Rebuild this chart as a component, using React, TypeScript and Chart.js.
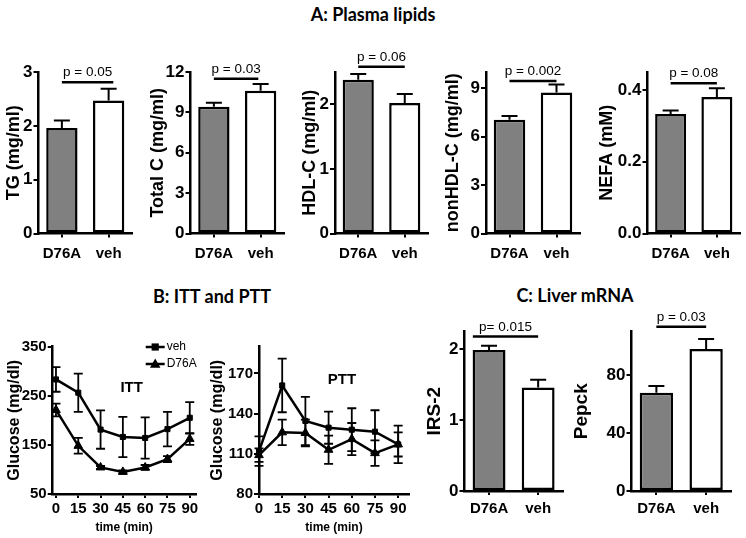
import React, { useEffect, useRef } from 'react';
import { Chart, registerables } from 'chart.js';
Chart.register(...registerables);

const W = 746;
const H = 538;
const FONT = "'Liberation Sans', Arial, Helvetica, sans-serif";
Chart.defaults.font.family = FONT;
Chart.defaults.color = '#000';

// ---------- data ----------
const groups = ['D76A', 'veh'];

const tgMean = [1.96, 2.47];
const tgSem = [0.14, 0.22];
const tcMean = [9.41, 10.6];
const tcSem = [0.3, 0.5];
const hdlMean = [2.38, 2.02];
const hdlSem = [0.09, 0.14];
const nonHdlMean = [7.05, 8.73];
const nonHdlSem = [0.22, 0.49];
const nefaMean = [0.333, 0.38];
const nefaSem = [0.01, 0.025];
const irs2Mean = [1.99, 1.46];
const irs2Sem = [0.06, 0.11];
const pepckMean = [67.8, 98];
const pepckSem = [4.6, 6.9];

const tgTicks = [0, 1, 2, 3];
const tcTicks = [0, 3, 6, 9, 12];
const hdlTicks = [0, 1, 2];
const nonHdlTicks = [0, 3, 6, 9];
const nefaTicks = [0, 0.2, 0.4];
const nefaTickLabels = ['0.0', '0.2', '0.4'];
const irs2Ticks = [0, 1, 2];
const pepckTicks = [0, 40, 80];

const pTexts = ['p = 0.05', 'p = 0.03', 'p = 0.06', 'p = 0.002', 'p = 0.08', 'p= 0.015', 'p = 0.03'];
const sigLevels = [2.81, 11.5, 2.58, 9.44, 0.419, 2.18, 113.3];

const times = [0, 15, 30, 45, 60, 75, 90];
const ittVeh = [283, 256, 181, 166, 164, 182, 205];
const ittVehSem = [25, 39, 39, 41, 42, 35, 32];
const ittD76A = [221, 148, 104, 95, 104, 121, 162];
const ittD76ASem = [13, 16, 3, 3, 5, 6, 12];
const pttVeh = [112, 161, 134.5, 129.5, 128, 126.5, 117];
const pttVehSem = [11, 20, 18, 12, 16, 16, 14];
const pttD76A = [109, 126, 125.5, 113, 121, 110.5, 117];
const pttD76ASem = [5, 9.5, 10, 10.5, 12, 9.5, 9];
const ittTicks = [50, 150, 250, 350];
const pttTicks = [80, 110, 140, 170];

// ---------- panel definitions ----------
type BarPanel = {
  title: string; mean: number[]; sem: number[]; max: number; ticks: number[]; tickLabels?: string[];
  sig: number; sigFrom: number; sigTo: number; pText: string;
  area: { l: number; t: number; r: number; b: number };
  titleCx: number; titleSize: number; tickSize: number; labelPad: number;
};

const barPanels: BarPanel[] = [
  { title: 'TG (mg/ml)', mean: tgMean, sem: tgSem, max: 3, ticks: tgTicks, sig: sigLevels[0], sigFrom: 0, sigTo: 1.1, pText: pTexts[0],
    area: { l: 38.5, t: 72, r: 132, b: 233.5 }, titleCx: 14, titleSize: 18, tickSize: 17, labelPad: 7 },
  { title: 'Total C (mg/ml)', mean: tcMean, sem: tcSem, max: 12, ticks: tcTicks, sig: sigLevels[1], sigFrom: 0, sigTo: 0.95, pText: pTexts[1],
    area: { l: 190.5, t: 72, r: 284, b: 233.5 }, titleCx: 158, titleSize: 18, tickSize: 17, labelPad: 7 },
  { title: 'HDL-C (mg/ml)', mean: hdlMean, sem: hdlSem, max: 2.5, ticks: hdlTicks, sig: sigLevels[2], sigFrom: 0, sigTo: 1, pText: pTexts[2],
    area: { l: 335, t: 72, r: 428, b: 233.5 }, titleCx: 310, titleSize: 18, tickSize: 17, labelPad: 7 },
  { title: 'nonHDL-C (mg/ml)', mean: nonHdlMean, sem: nonHdlSem, max: 10, ticks: nonHdlTicks, sig: sigLevels[3], sigFrom: 0, sigTo: 1, pText: pTexts[3],
    area: { l: 486, t: 72, r: 580, b: 233.5 }, titleCx: 453, titleSize: 18, tickSize: 17, labelPad: 7 },
  { title: 'NEFA (mM)', mean: nefaMean, sem: nefaSem, max: 0.45, ticks: nefaTicks, tickLabels: nefaTickLabels, sig: sigLevels[4], sigFrom: 0, sigTo: 1, pText: pTexts[4],
    area: { l: 647.5, t: 72, r: 740, b: 233.5 }, titleCx: 607, titleSize: 18, tickSize: 17, labelPad: 7 },
  { title: 'IRS-2', mean: irs2Mean, sem: irs2Sem, max: 2.25, ticks: irs2Ticks, sig: sigLevels[5], sigFrom: -0.33, sigTo: 1, pText: pTexts[5],
    area: { l: 464.5, t: 331.5, r: 562.7, b: 491 }, titleCx: 435, titleSize: 19, tickSize: 17, labelPad: 5 },
  { title: 'Pepck', mean: pepckMean, sem: pepckSem, max: 110, ticks: pepckTicks, sig: sigLevels[6], sigFrom: 0, sigTo: 1, pText: pTexts[6],
    area: { l: 631.5, t: 331.5, r: 731, b: 491 }, titleCx: 582, titleSize: 19, tickSize: 17, labelPad: 5 },
];

type LinePanel = {
  veh: number[]; vehSem: number[]; d76a: number[]; d76aSem: number[];
  xMin: number; xMax: number; yMin: number; yMax: number; ticks: number[];
  area: { l: number; t: number; r: number; b: number }; titleCx: number;
  label: string; labelDx: number; labelDy: number; legend: boolean;
};

const linePanels: LinePanel[] = [
  { veh: ittVeh, vehSem: ittVehSem, d76a: ittD76A, d76aSem: ittD76ASem, xMin: -2.2, xMax: 94, yMin: 50, yMax: 350, ticks: ittTicks,
    area: { l: 52.7, t: 346.5, r: 195.7, b: 494 }, titleCx: 15, label: 'ITT', labelDx: 79, labelDy: 41, legend: true },
  { veh: pttVeh, vehSem: pttVehSem, d76a: pttD76A, d76aSem: pttD76ASem, xMin: 0, xMax: 97, yMin: 80, yMax: 190, ticks: pttTicks,
    area: { l: 259, t: 346.6, r: 409, b: 494 }, titleCx: 218, label: 'PTT', labelDx: 83, labelDy: 33.5, legend: false },
];

// ---------- helpers ----------
const axisGrid = (len: number, offset?: boolean) => ({
  display: true, drawOnChartArea: false, drawTicks: true, tickLength: len, color: '#000', lineWidth: 2,
  ...(offset === undefined ? {} : { offset }),
});
const axisBorder = { display: true, color: '#000', width: 2.5 };

function barConfig(p: BarPanel): any {
  const lh = p.titleSize * 1.2;
  const YW = p.area.l - (p.titleCx - lh / 2);
  const XH = 30;
  const decor = {
    id: 'decor',
    afterDatasetsDraw(chart: any) {
      const { ctx } = chart;
      const x = chart.scales.x, y = chart.scales.y;
      ctx.save();
      ctx.strokeStyle = '#000';
      ctx.lineWidth = 2;
      p.mean.forEach((m, i) => {
        const px = x.getPixelForValue(i);
        const y0 = y.getPixelForValue(m);
        const y1 = y.getPixelForValue(m + p.sem[i]);
        ctx.beginPath();
        ctx.moveTo(px, y0);
        ctx.lineTo(px, y1);
        ctx.moveTo(px - 8, y1);
        ctx.lineTo(px + 8, y1);
        ctx.stroke();
      });
      const sy = y.getPixelForValue(p.sig);
      const sx0 = x.getPixelForValue(p.sigFrom);
      const sx1 = x.getPixelForValue(p.sigTo);
      ctx.lineWidth = 2.5;
      ctx.beginPath();
      ctx.moveTo(sx0, sy);
      ctx.lineTo(sx1, sy);
      ctx.stroke();
      ctx.font = `13.5px ${FONT}`;
      ctx.fillStyle = '#000';
      ctx.textAlign = 'center';
      ctx.textBaseline = 'middle';
      ctx.fillText(p.pText, (sx0 + sx1) / 2, sy - 9.5);
      ctx.restore();
    },
  };
  return {
    type: 'bar',
    data: {
      labels: groups,
      datasets: [{
        data: p.mean,
        backgroundColor: ['#808080', '#ffffff'],
        borderColor: '#000',
        borderWidth: 2.5,
        borderSkipped: false,
        barPercentage: 0.67,
        categoryPercentage: 1,
      }],
    },
    options: {
      responsive: false,
      animation: false,
      devicePixelRatio: 1,
      events: [],
      layout: { padding: { left: p.area.l - YW, top: p.area.t, right: W - p.area.r, bottom: H - p.area.b - XH } },
      plugins: { legend: { display: false }, tooltip: { enabled: false } },
      scales: {
        x: {
          type: 'category',
          offset: true,
          grid: axisGrid(4, false),
          border: axisBorder,
          ticks: { font: { size: 15, weight: 'bold' }, color: '#000', padding: p.labelPad, maxRotation: 0 },
          afterFit: (s: any) => { s.height = XH; },
        },
        y: {
          type: 'linear',
          min: 0,
          max: p.max,
          grid: axisGrid(5),
          border: axisBorder,
          ticks: {
            font: { size: p.tickSize, weight: 'bold' }, color: '#000', padding: 1,
            callback: (v: number, i: number) => (p.tickLabels ? p.tickLabels[i] : String(v)),
          },
          afterBuildTicks: (s: any) => { s.ticks = p.ticks.map((v) => ({ value: v })); },
          afterFit: (s: any) => { s.width = YW; },
          title: { display: true, text: p.title, color: '#000', font: { size: p.titleSize, weight: 'bold' }, padding: 0 },
        },
      },
    },
    plugins: [decor],
  };
}

function drawMarker(ctx: CanvasRenderingContext2D, style: string, x: number, y: number, r: number) {
  ctx.beginPath();
  if (style === 'rect') {
    ctx.rect(x - r, y - r, 2 * r, 2 * r);
  } else {
    ctx.moveTo(x, y - r * 1.1);
    ctx.lineTo(x + r * 1.05, y + r * 0.75);
    ctx.lineTo(x - r * 1.05, y + r * 0.75);
    ctx.closePath();
  }
  ctx.fill();
}

function lineConfig(o: LinePanel): any {
  const lh = 16 * 1.2;
  const YW = o.area.l - (o.titleCx - lh / 2);
  const XH = 41.2;
  const series = [
    { label: 'veh', vals: o.veh, sem: o.vehSem, style: 'rect', r: 3.6 },
    { label: 'D76A', vals: o.d76a, sem: o.d76aSem, style: 'triangle', r: 5 },
  ];
  const decor = {
    id: 'decor',
    beforeDatasetsDraw(chart: any) {
      const { ctx } = chart;
      const x = chart.scales.x, y = chart.scales.y;
      ctx.save();
      ctx.strokeStyle = '#000';
      ctx.lineWidth = 1.8;
      series.forEach((s) => {
        s.vals.forEach((v, i) => {
          const px = x.getPixelForValue(times[i]);
          const yt = y.getPixelForValue(v + s.sem[i]);
          const yb = y.getPixelForValue(v - s.sem[i]);
          ctx.beginPath();
          ctx.moveTo(px, yt);
          ctx.lineTo(px, yb);
          ctx.moveTo(px - 4.5, yt);
          ctx.lineTo(px + 4.5, yt);
          ctx.moveTo(px - 4.5, yb);
          ctx.lineTo(px + 4.5, yb);
          ctx.stroke();
        });
      });
      ctx.restore();
    },
    afterDatasetsDraw(chart: any) {
      const { ctx, chartArea: ca } = chart;
      ctx.save();
      ctx.fillStyle = '#000';
      ctx.strokeStyle = '#000';
      ctx.font = `bold 15px ${FONT}`;
      ctx.textAlign = 'center';
      ctx.textBaseline = 'middle';
      ctx.fillText(o.label, ca.left + o.labelDx, ca.top + o.labelDy);
      if (o.legend) {
        ctx.font = `12px ${FONT}`;
        ctx.textAlign = 'left';
        series.forEach((s, k) => {
          const ly = ca.top + 0.5 + k * 17;
          const lx0 = ca.left + 93;
          const lx1 = ca.left + 112;
          ctx.lineWidth = 2.5;
          ctx.beginPath();
          ctx.moveTo(lx0, ly);
          ctx.lineTo(lx1, ly);
          ctx.stroke();
          drawMarker(ctx, s.style, (lx0 + lx1) / 2, ly, s.r);
          ctx.fillText(s.label, lx1 + 2, ly);
        });
      }
      ctx.restore();
    },
  };
  return {
    type: 'line',
    data: {
      datasets: series.map((s) => ({
        label: s.label,
        data: times.map((t, i) => ({ x: t, y: s.vals[i] })),
        borderColor: '#000',
        borderWidth: 2.5,
        pointStyle: s.style,
        pointRadius: s.r,
        pointBackgroundColor: '#000',
        pointBorderColor: '#000',
        pointBorderWidth: 1,
        tension: 0,
        clip: false,
      })),
    },
    options: {
      responsive: false,
      animation: false,
      devicePixelRatio: 1,
      events: [],
      layout: { padding: { left: o.area.l - YW, top: o.area.t, right: W - o.area.r, bottom: H - o.area.b - XH } },
      plugins: { legend: { display: false }, tooltip: { enabled: false } },
      scales: {
        x: {
          type: 'linear',
          min: o.xMin,
          max: o.xMax,
          grid: axisGrid(4),
          border: axisBorder,
          ticks: { font: { size: 15, weight: 'bold' }, color: '#000', padding: 2, maxRotation: 0, callback: (v: number) => String(v) },
          afterBuildTicks: (s: any) => { s.ticks = times.map((v) => ({ value: v })); },
          afterFit: (s: any) => { s.height = XH; },
          title: { display: true, text: 'time (min)', color: '#000', font: { size: 12, weight: 'bold' }, padding: 0 },
        },
        y: {
          type: 'linear',
          min: o.yMin,
          max: o.yMax,
          grid: axisGrid(5),
          border: axisBorder,
          ticks: { font: { size: 15, weight: 'bold' }, color: '#000', padding: 1, callback: (v: number) => String(v) },
          afterBuildTicks: (s: any) => { s.ticks = o.ticks.map((v) => ({ value: v })); },
          afterFit: (s: any) => { s.width = YW; },
          title: { display: true, text: 'Glucose (mg/dl)', color: '#000', font: { size: 16, weight: 'bold' }, padding: 0 },
        },
      },
    },
    plugins: [decor],
  };
}

function ChartCanvas({ make }: { make: () => any }) {
  const ref = useRef<HTMLCanvasElement>(null);
  useEffect(() => {
    const chart = new Chart(ref.current as HTMLCanvasElement, make());
    return () => chart.destroy();
  }, []);
  return (
    <canvas
      ref={ref}
      width={W}
      height={H}
      style={{ position: 'absolute', left: 0, top: 0, width: W, height: H, pointerEvents: 'none' }}
    />
  );
}

const sectionTitles = [
  { text: 'A: Plasma lipids', cx: 373, cy: 14 },
  { text: 'B: ITT and PTT', cx: 212, cy: 296 },
  { text: 'C: Liver mRNA', cx: 575, cy: 295 },
];

export default function App() {
  return (
    <div style={{ position: 'absolute', left: 0, top: 0, width: W, height: H, background: '#fff', overflow: 'hidden' }}>
      {sectionTitles.map((t) => (
        <div
          key={t.text}
          style={{
            position: 'absolute', left: t.cx - 150, width: 300, top: t.cy - 11, height: 22, lineHeight: '22px',
            textAlign: 'center', fontFamily: 'Lato, sans-serif', fontWeight: 700, fontSize: 18, color: '#000',
          }}
        >
          {t.text}
        </div>
      ))}
      {barPanels.map((p, i) => (
        <ChartCanvas key={'b' + i} make={() => barConfig(p)} />
      ))}
      {linePanels.map((p, i) => (
        <ChartCanvas key={'l' + i} make={() => lineConfig(p)} />
      ))}
    </div>
  );
}
